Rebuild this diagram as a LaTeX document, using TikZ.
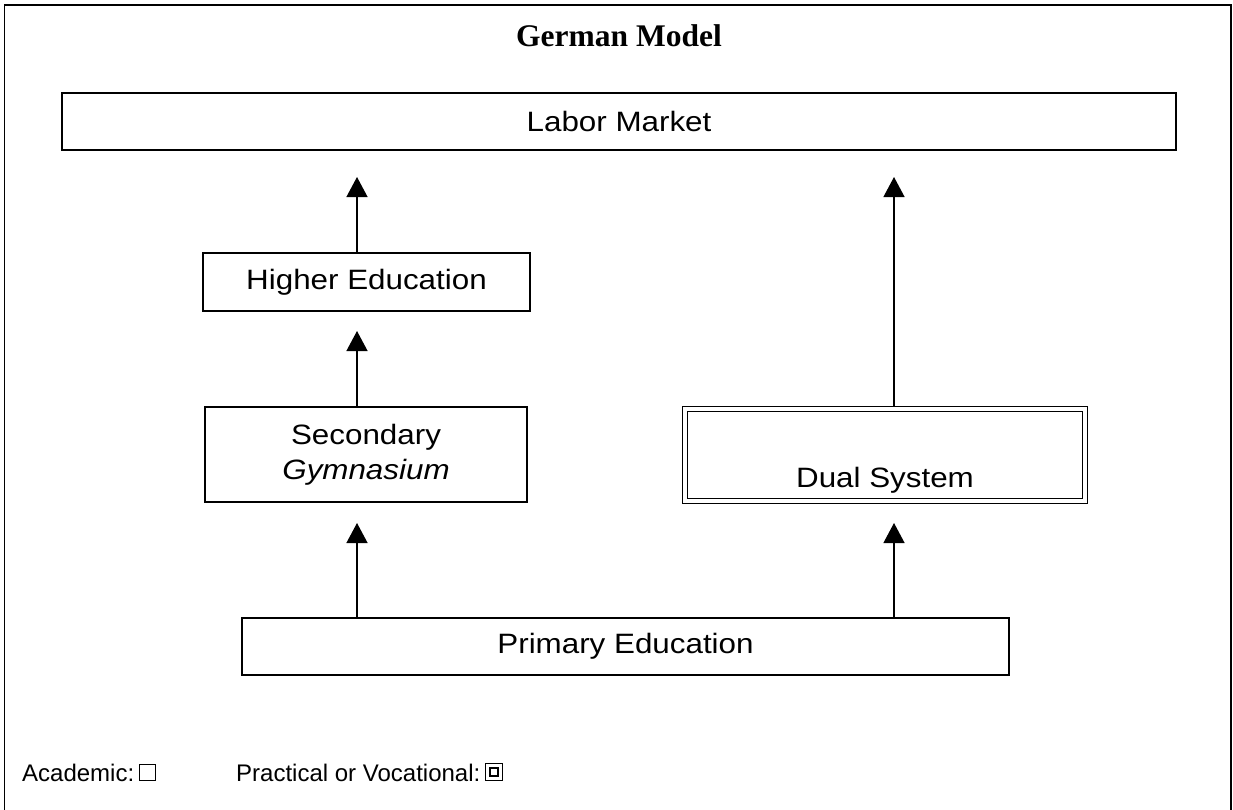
\documentclass[tikz,border=0pt]{standalone}
\usepackage{fontspec}
\setmainfont{Liberation Sans}
\newfontfamily\boxfont[FakeStretch=1.12]{Liberation Sans}
\newfontfamily\titlefont{Liberation Serif}
\usetikzlibrary{arrows.meta}
\begin{document}
\begin{tikzpicture}[x=1pt,y=-1pt,
  box/.style={draw,line width=1.3pt,inner sep=0pt,font=\boxfont\fontsize{28}{35}\selectfont},
  arr/.style={line width=1.3pt,-{Triangle[length=20pt,width=21pt]}},
  lbl/.style={inner sep=0pt,font=\fontsize{24}{28}\selectfont}]
\useasboundingbox (0,0) rectangle (1233,809);
\draw[line width=1.4pt] (4.5,830) -- (4.5,5) -- (1231,5) -- (1231,830);
\node[inner sep=0pt,font=\titlefont\bfseries\fontsize{31.5}{36}\selectfont] (title) at (619,36) {German Model};
\node[box,minimum width=1114pt,minimum height=57pt] (labor) at (619,121.5) {Labor Market};
\node[box,minimum width=327pt,minimum height=58pt] (higher) at (366.5,282) {Higher Education};
\node[box,minimum width=322pt,minimum height=95pt,align=center] (sec) at (366,454.5) {Secondary\\\itshape Gymnasium};
\node[box,draw=none,minimum width=404pt,minimum height=96pt] (dual) at (885,455) {};
\draw[line width=1.4pt] (dual.north west) rectangle (dual.south east);
\draw[line width=1.4pt] ([xshift=5pt,yshift=-5pt]dual.north west) rectangle ([xshift=-5pt,yshift=5pt]dual.south east);
\node[inner sep=0pt,font=\boxfont\fontsize{28}{35}\selectfont,anchor=base] (dualtxt) at (885,487) {Dual System};
\node[box,minimum width=767pt,minimum height=57pt] (prim) at (625.5,646.5) {Primary Education};
\coordinate (t1) at (357,177);
\coordinate (t2) at (357,331);
\coordinate (t3) at (357,523);
\coordinate (t4) at (894,177);
\coordinate (t5) at (894,523);
\draw[arr] (higher.north -| t1) -- (t1);
\draw[arr] (sec.north -| t2) -- (t2);
\draw[arr] (prim.north -| t3) -- (t3);
\draw[arr] (dual.north -| t4) -- (t4);
\draw[arr] (prim.north -| t5) -- (t5);
\node[lbl,anchor=base west] (acad) at (22,781) {Academic:};
\node[draw,line width=1pt,minimum size=16pt,inner sep=0pt,anchor=south west] (asq) at ([xshift=5pt]acad.base east) {};
\node[lbl,anchor=base west] (prac) at (236,781) {Practical or Vocational:};
\node[draw,line width=1.4pt,minimum size=17pt,inner sep=0pt,anchor=south west] (psq) at ([xshift=4pt]prac.base east) {};
\node[draw,line width=2pt,minimum size=8pt,inner sep=0pt] at (psq.center) {};
\end{tikzpicture}
\end{document}
